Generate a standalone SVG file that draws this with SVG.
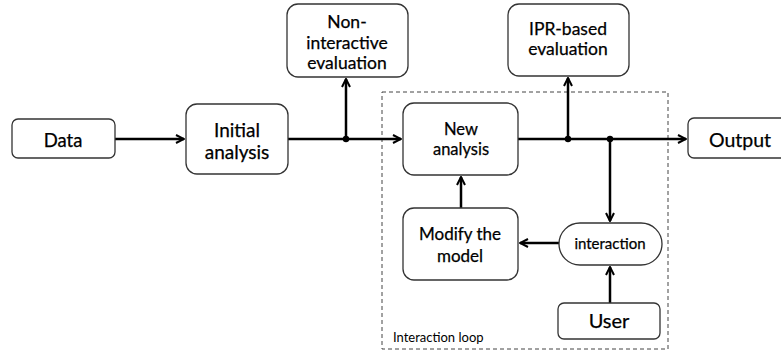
<svg xmlns="http://www.w3.org/2000/svg" width="781" height="351" viewBox="0 0 781 351">
<style>
.box{fill:#fff;stroke:#333;stroke-width:1.3}
.t{font-family:Lato,"Open Sans","Liberation Sans",sans-serif;fill:#000;stroke:#000;stroke-width:0.25;text-anchor:middle}
.ln{stroke:#000;stroke-width:2.5;fill:none}
</style>
<defs>
<marker id="ah" viewBox="0 0 10 10" refX="9" refY="5" markerWidth="4" markerHeight="4" orient="auto" markerUnits="strokeWidth">
<path d="M1,1 L9,5 L1,9" fill="none" stroke="#000" stroke-width="2"/>
</marker>
</defs>
<rect x="382" y="92" width="286" height="257" fill="none" stroke="#444" stroke-width="1" stroke-dasharray="4,3"/>
<text x="393" y="342" font-family="Lato,'Open Sans','Liberation Sans',sans-serif" font-size="13">Interaction loop</text>
<g id="connectors">
<line class="ln" x1="115" y1="139" x2="184" y2="139" marker-end="url(#ah)"/>
<line class="ln" x1="288" y1="139" x2="401" y2="139" marker-end="url(#ah)"/>
<line class="ln" x1="346" y1="139" x2="346" y2="79" marker-end="url(#ah)"/>
<line class="ln" x1="518" y1="139" x2="686" y2="139" marker-end="url(#ah)"/>
<line class="ln" x1="568" y1="139" x2="568" y2="78" marker-end="url(#ah)"/>
<line class="ln" x1="610" y1="139" x2="610" y2="221" marker-end="url(#ah)"/>
<line class="ln" x1="610" y1="303" x2="610" y2="267" marker-end="url(#ah)"/>
<line class="ln" x1="559" y1="243" x2="520" y2="243" marker-end="url(#ah)"/>
<line class="ln" x1="461" y1="208" x2="461" y2="177" marker-end="url(#ah)"/>
<circle cx="346" cy="139" r="3.2"/>
<circle cx="568" cy="139" r="3.2"/>
<circle cx="610" cy="139" r="3.2"/>
</g>
<g id="data"><rect class="box" x="12" y="119" width="103" height="39" rx="6"/><text class="t" x="63" y="147" font-size="18.5">Data</text></g>
<g id="initial"><rect class="box" x="186" y="104" width="102" height="70" rx="11"/><text class="t" x="237" y="137" font-size="19">Initial</text><text class="t" x="237" y="159" font-size="19">analysis</text></g>
<g id="noninteractive"><rect class="box" x="287" y="4" width="121" height="73" rx="11"/><text class="t" x="347" y="28" font-size="17.5">Non-</text><text class="t" x="347" y="49" font-size="17.5">interactive</text><text class="t" x="347" y="69" font-size="17.5">evaluation</text></g>
<g id="newanalysis"><rect class="box" x="403" y="103" width="115" height="72" rx="11"/><text class="t" x="461" y="135" font-size="16.5">New</text><text class="t" x="461" y="155" font-size="16.5">analysis</text></g>
<g id="ipr"><rect class="box" x="508" y="4" width="121" height="72" rx="11"/><text class="t" x="568" y="35" font-size="17.5">IPR-based</text><text class="t" x="568" y="55" font-size="17.5">evaluation</text></g>
<g id="output"><rect class="box" x="688" y="118" width="102" height="40" rx="6"/><text class="t" x="740" y="147" font-size="19.5">Output</text></g>
<g id="modify"><rect class="box" x="403" y="208" width="115" height="72" rx="11"/><text class="t" x="460" y="240" font-size="17">Modify the</text><text class="t" x="460" y="262" font-size="17">model</text></g>
<g id="interaction"><rect class="box" x="559" y="223" width="103" height="42" rx="21"/><text class="t" x="610" y="249" font-size="15">interaction</text></g>
<g id="user"><rect class="box" x="558" y="303" width="102" height="36" rx="6"/><text class="t" x="609" y="328" font-size="20">User</text></g>
</svg>
